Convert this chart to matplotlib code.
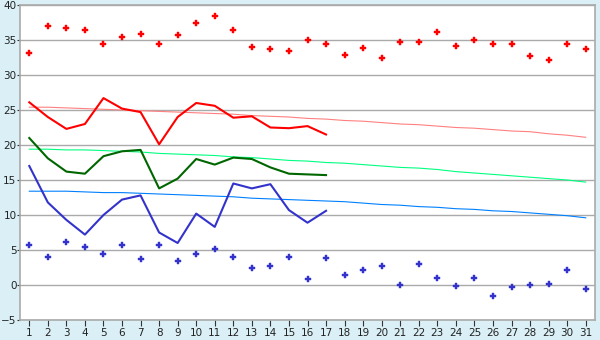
import matplotlib
matplotlib.use("Agg")
import matplotlib.pyplot as plt

days = list(range(1, 32))

max_pts = [33.2, 37.0, 36.7, 36.4, 34.5, 35.4, 35.8, 34.5, 35.7, 37.5,
           38.5, 36.5, 34.0, 33.7, 33.4, 35.0, 34.4, 32.8, 33.8, 32.5,
           34.7, 34.7, 36.1, 34.2, 35.0, 34.5, 34.4, 32.7, 32.1, 34.4, 33.7]
min_pts = [5.7, 4.0, 6.1, 5.4, 4.4, 5.7, 3.7, 5.7, 3.5, 4.4,
           5.2, 4.0, 2.5, 2.7, 4.0, 0.8, 3.8, 1.5, 2.2, 2.7,
           0.0, 3.0, 1.0, -0.2, 1.0, -1.6, -0.3, 0.0, 0.2, 2.1, -0.6]

high_line = [26.1, 24.0, 22.3, 23.0, 26.7, 25.2, 24.7, 20.1, 24.0, 26.0,
             25.6, 23.9, 24.1, 22.5, 22.4, 22.7, 21.5]
mean_line = [21.0, 18.1, 16.2, 15.9, 18.4, 19.1, 19.3, 13.8, 15.2, 18.0,
             17.2, 18.2, 18.0, 16.8, 15.9, 15.8, 15.7]
low_line = [17.0, 11.8, 9.3, 7.2, 10.0, 12.2, 12.8, 7.5, 6.0, 10.2,
            8.3, 14.5, 13.8, 14.4, 10.7, 8.9, 10.6]

high_norm = [25.4, 25.4, 25.3, 25.2, 25.1, 25.0, 24.9, 24.8, 24.7, 24.6,
             24.5, 24.4, 24.2, 24.1, 24.0, 23.8, 23.7, 23.5, 23.4, 23.2,
             23.0, 22.9, 22.7, 22.5, 22.4, 22.2, 22.0, 21.9, 21.6, 21.4, 21.1]
mean_norm = [19.4, 19.4, 19.3, 19.3, 19.2, 19.1, 19.0, 18.8, 18.7, 18.6,
             18.5, 18.3, 18.2, 18.0, 17.8, 17.7, 17.5, 17.4, 17.2, 17.0,
             16.8, 16.7, 16.5, 16.2, 16.0, 15.8, 15.6, 15.4, 15.2, 15.0, 14.7]
low_norm = [13.4, 13.4, 13.4, 13.3, 13.2, 13.2, 13.1, 13.0, 12.9, 12.8,
            12.7, 12.6, 12.4, 12.3, 12.2, 12.1, 12.0, 11.9, 11.7, 11.5,
            11.4, 11.2, 11.1, 10.9, 10.8, 10.6, 10.5, 10.3, 10.1, 9.9, 9.6]

y_ticks = [-5, 0, 5, 10, 15, 20, 25, 30, 35, 40]

fig = plt.figure(figsize=(6, 3.4), dpi=100, facecolor="#daf0f6")
ax = fig.add_axes([20 / 600, 20 / 340, 575 / 600, 315 / 340])
ax.set_facecolor("white")

ax.set_xlim(0.5, 31.5)
ax.set_ylim(-5, 40)
ax.set_yticks(y_ticks)
ax.set_xticks(days)
ax.grid(axis="y", color="#aaaaaa", linewidth=1.0)
ax.set_axisbelow(True)
for s in ax.spines.values():
    s.set_color("#aaaaaa")
    s.set_linewidth(1.2)
ax.tick_params(axis="x", labelsize=7.5, colors="#333333", length=4, width=0.8,
               pad=2, labelcolor="#222222")
ax.tick_params(axis="y", labelsize=7.5, colors="#333333", length=2, width=0.8,
               pad=0.5, labelcolor="#222222")

ax.plot(days, high_norm, color="#ff8080", linewidth=0.8)
ax.plot(days, mean_norm, color="#00ff80", linewidth=0.8)
ax.plot(days, low_norm, color="#0080ff", linewidth=0.8)

n = len(high_line)
ax.plot(days[:n], high_line, color="#ff0000", linewidth=1.5)
ax.plot(days[:n], mean_line, color="#006600", linewidth=1.5)
ax.plot(days[:n], low_line, color="#3333cc", linewidth=1.5)

ax.plot(days, max_pts, linestyle="none", marker="P", markersize=4,
        color="#ff0000", markeredgewidth=0.3)
ax.plot(days, min_pts, linestyle="none", marker="P", markersize=4,
        color="#3333cc", markeredgewidth=0.3)

fig.savefig("out.png", dpi=100, facecolor=fig.get_facecolor())
